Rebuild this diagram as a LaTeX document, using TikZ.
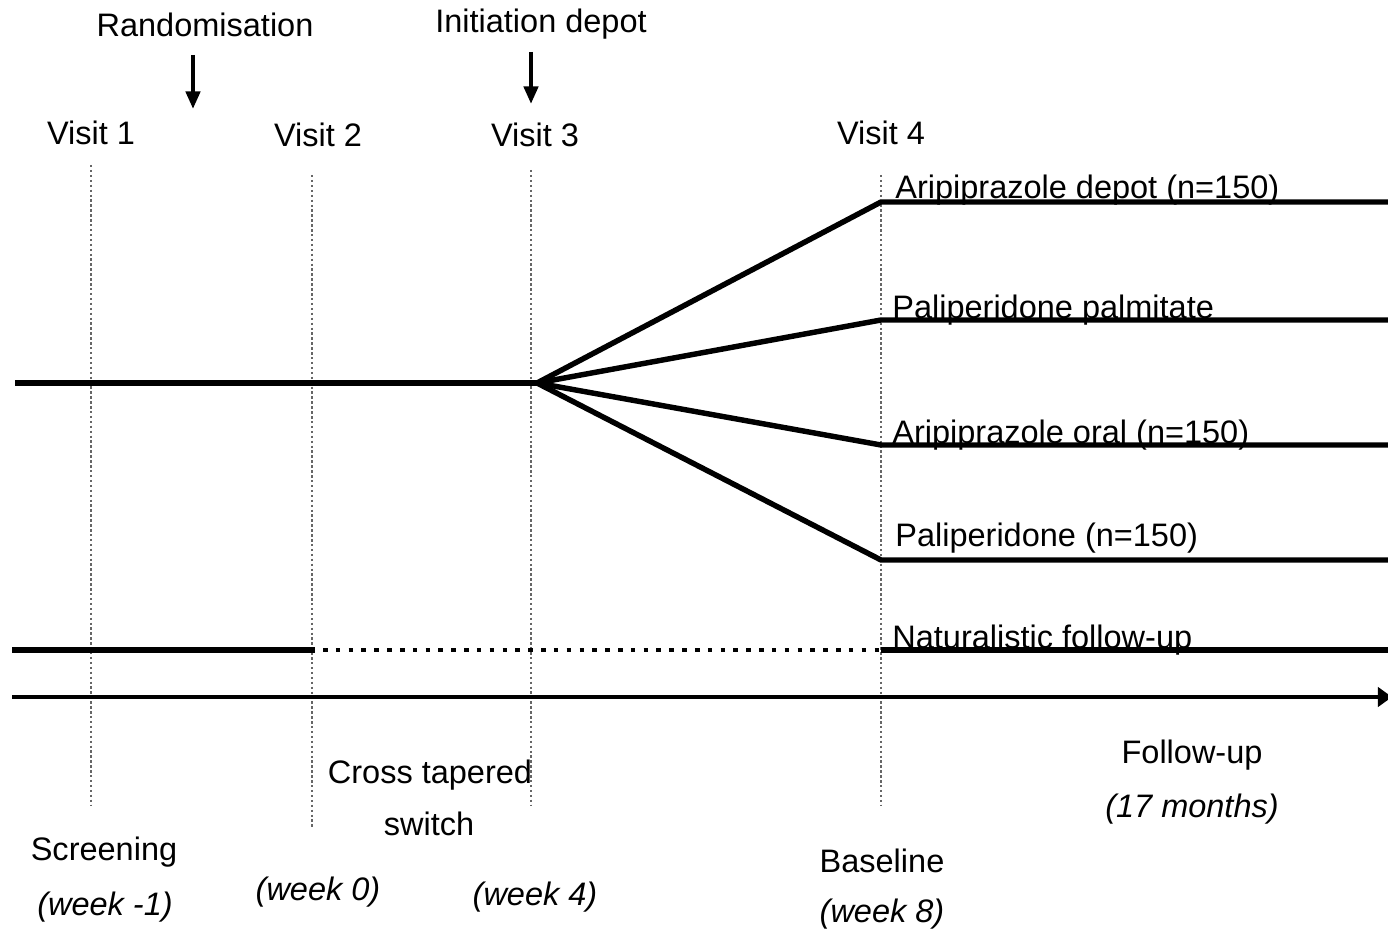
\documentclass[tikz,border=0pt]{standalone}
\usepackage{fontspec}
\setmainfont{Liberation Sans}
\usetikzlibrary{arrows.meta}
\begin{document}
\begin{tikzpicture}[x=0.02cm,y=-0.02cm,
  lbl/.style={inner sep=0pt,anchor=base,font=\fontsize{18.5}{22}\selectfont},
  lblw/.style={lbl,anchor=base west},
  ital/.style={lbl,font=\fontsize{18.5}{22}\selectfont\itshape},
  visitline/.style={draw=black!60,line width=1.3pt,dash pattern=on 1.4pt off 1.4pt},
  arm/.style={line width=3.1pt,line join=round},
  axisline/.style={line width=1.8pt,-{Triangle[length=8pt,width=11pt]}},
  evarrow/.style={line width=2.4pt,-{Triangle[length=10pt,width=8pt]}},
  natdots/.style={line width=2.6pt,dash pattern=on 2.6pt off 4.7pt}]
\useasboundingbox (0,0) rectangle (1388,929);
% visit vertical dotted lines
\coordinate (v1t) at (91,165); \coordinate (v1b) at (91,805);
\coordinate (v2t) at (312,175); \coordinate (v2b) at (312,828);
\coordinate (v3t) at (531,170); \coordinate (v3b) at (531,805);
\coordinate (v4t) at (881,175); \coordinate (v4b) at (881,805);
\draw[visitline] (v1t) -- (v1b);
\draw[visitline] (v2t) -- (v2b);
\draw[visitline] (v3t) -- (v3b);
\draw[visitline] (v4t) -- (v4b);
% top labels
\node[lbl] (rand) at (205,37) {Randomisation};
\node[lbl] (init) at (541,33) {Initiation depot};
\coordinate (ra1) at (193,55); \coordinate (ra2) at (193,109);
\coordinate (ia1) at (531,52); \coordinate (ia2) at (531,104);
\draw[evarrow] (ra1) -- (ra2);
\draw[evarrow] (ia1) -- (ia2);
\node[lbl] (visit1) at (91,145) {Visit 1};
\node[lbl] (visit2) at (318,147) {Visit 2};
\node[lbl] (visit3) at (535,147) {Visit 3};
\node[lbl] (visit4) at (881,145) {Visit 4};
% main line and branches
\coordinate (start) at (15,383);
\coordinate (fan) at (537,383);
\coordinate (b1) at (881,202); \coordinate (e1) at (1388,202);
\coordinate (b2) at (881,320); \coordinate (e2) at (1388,320);
\coordinate (b3) at (881,445); \coordinate (e3) at (1388,445);
\coordinate (b4) at (881,560); \coordinate (e4) at (1388,560);
\draw[arm] (start) -- (fan);
\draw[arm] (fan) -- (b1) -- (e1);
\draw[arm] (fan) -- (b2) -- (e2);
\draw[arm] (fan) -- (b3) -- (e3);
\draw[arm] (fan) -- (b4) -- (e4);
\node[lblw] (arm1) at (895,198) {Aripiprazole depot (n=150)};
\node[lblw] (arm2) at (892,318) {Paliperidone palmitate};
\node[lblw] (arm3) at (892,443) {Aripiprazole oral (n=150)};
\node[lblw] (arm4) at (895,546) {Paliperidone (n=150)};
% naturalistic
\coordinate (n0) at (12,650); \coordinate (n1) at (315,650);
\coordinate (n2) at (881,650); \coordinate (n3) at (1388,650);
\draw[arm] (n0) -- (n1);
\draw[natdots] (n1) ++(8,0) -- (n2);
\draw[arm] (n2) -- (n3);
\node[lblw] (arm5) at (892,648) {Naturalistic follow-up};
% time axis
\coordinate (ax0) at (12,697); \coordinate (ax1) at (1392,697);
\draw[axisline] (ax0) -- (ax1);
% bottom labels
\node[lbl] (cross) at (430,783) {Cross tapered};
\node[lbl] (switch) at (429,835) {switch};
\node[lbl] (screen) at (104,860) {Screening};
\node[ital] (wm1) at (105,915) {(week -1)};
\node[ital] (w0) at (318,900) {(week 0)};
\node[ital] (w4) at (535,905) {(week 4)};
\node[lbl] (base) at (882,872) {Baseline};
\node[ital] (w8) at (882,922) {(week 8)};
\node[lbl] (fu) at (1192,763) {Follow-up};
\node[ital] (months) at (1192,817) {(17 months)};
\end{tikzpicture}
\end{document}
